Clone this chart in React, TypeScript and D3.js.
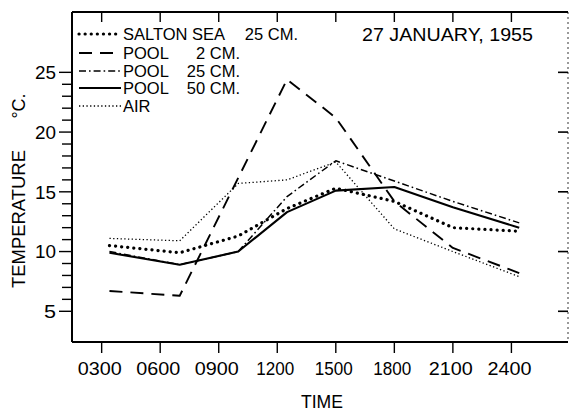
import React from "react";
import * as d3 from "d3";

// hours of the day; the last reading is just past midnight
const times = [3.4, 7, 10, 12.5, 15, 18, 21, 24.4];
const saltonSea25 = [10.5, 9.9, 11.3, 13.6, 15.3, 14.2, 12.0, 11.7];
const pool2 = [6.7, 6.3, null, 24.4, 21.2, 14.2, 10.3, 8.2];
const pool25 = [10.0, 8.9, 10.0, 14.6, 17.6, 15.9, 14.2, 12.4];
const pool50 = [9.9, 8.9, 10.0, 13.3, 15.1, 15.4, 13.7, 12.0];
const air = [11.1, 10.9, 15.7, 16.0, 17.5, 11.9, 10.0, 7.9];

const timeTicks = [3, 6, 9, 12, 15, 18, 21, 24];
const timeLabels = ["0300", "0600", "0900", "1200", "1500", "1800", "2100", "2400"];
const tempTicks = [5, 10, 15, 20, 25];

const FONT = "'Liberation Sans', Arial, sans-serif";

type Series = {
  name: string;
  depth: string;
  values: (number | null)[];
  width: number;
  dash: string;
  cap: "round" | "butt";
};

const series: Series[] = [
  { name: "SALTON SEA", depth: "25 CM.", values: saltonSea25, width: 3.2, dash: "0.1 6", cap: "round" },
  { name: "POOL", depth: "2 CM.", values: pool2, width: 1.9, dash: "13 8", cap: "butt" },
  { name: "POOL", depth: "25 CM.", values: pool25, width: 1.5, dash: "7 3 1.6 3", cap: "butt" },
  { name: "POOL", depth: "50 CM.", values: pool50, width: 2.1, dash: "none", cap: "butt" },
  { name: "AIR", depth: "", values: air, width: 1.3, dash: "1.3 2.4", cap: "butt" },
];

export default function App() {
  const width = 569;
  const height = 411;
  const left = 72;
  const right = 568;
  const top = 12;
  const bottom = 342;

  const x = d3.scaleLinear().domain([1.48, 26.9]).range([left, right]);
  const y = d3.scaleLinear().domain([2.43, 30.05]).range([bottom, top]);

  const line = d3
    .line<[number, number]>()
    .x((d) => x(d[0]))
    .y((d) => y(d[1]));

  const minorTicks = d3.range(5, 26);
  const legendY = [34, 53, 71, 88, 106];

  return (
    <svg
      width={width}
      height={height}
      style={{ position: "absolute", left: 0, top: 0, background: "#fff" }}
      fontFamily={FONT}
    >
      {/* frame */}
      <line x1={left} x2={left} y1={top} y2={bottom} stroke="#000" strokeWidth={2} />
      <line x1={left} x2={right} y1={bottom} y2={bottom} stroke="#000" strokeWidth={2} />
      <line x1={left} x2={right} y1={top} y2={top} stroke="#000" strokeWidth={2} />
      <line x1={right} x2={right} y1={top} y2={bottom} stroke="#000" strokeWidth={0.8} strokeDasharray="2 3" />

      {/* left ticks, every degree */}
      {minorTicks.map((t) => (
        <line
          key={"m" + t}
          x1={t % 5 === 0 ? left - 13 : left - 10}
          x2={left}
          y1={y(t)}
          y2={y(t)}
          stroke="#000"
          strokeWidth={1.4}
        />
      ))}
      {/* right ticks */}
      {tempTicks.map((t) => (
        <line key={"r" + t} x1={right - 10} x2={right} y1={y(t)} y2={y(t)} stroke="#000" strokeWidth={1.6} />
      ))}
      {tempTicks.map((t) => (
        <text
          key={"yl" + t}
          x={56}
          y={y(t)}
          dy="0.36em"
          textAnchor="end"
          fontSize={19}
          textLength={t < 10 ? 12 : 21}
          lengthAdjust="spacingAndGlyphs"
        >
          {t}
        </text>
      ))}

      {/* time ticks */}
      {timeTicks.map((t, i) => (
        <g key={"t" + t}>
          <line x1={x(t)} x2={x(t)} y1={bottom} y2={bottom + 11} stroke="#000" strokeWidth={1.4} />
          <line x1={x(t)} x2={x(t)} y1={top} y2={top + 10} stroke="#000" strokeWidth={1.4} />
          <text
            x={x(t) - 2}
            y={375}
            textAnchor="middle"
            fontSize={19}
            textLength={i >= 3 && i <= 5 ? 38 : 44}
            lengthAdjust="spacingAndGlyphs"
          >
            {timeLabels[i]}
          </text>
        </g>
      ))}

      <text x={322} y={408} textAnchor="middle" fontSize={19} textLength={42} lengthAdjust="spacingAndGlyphs">
        TIME
      </text>
      <text
        transform="translate(25,219) rotate(-90)"
        textAnchor="middle"
        fontSize={19}
        textLength={138}
        lengthAdjust="spacingAndGlyphs"
      >
        TEMPERATURE
      </text>
      <text transform="translate(25,106) rotate(-90)" textAnchor="middle" fontSize={18}>
        °C.
      </text>

      <text x={362} y={41} fontSize={18} textLength={171} lengthAdjust="spacingAndGlyphs">
        27 JANUARY, 1955
      </text>

      {/* data lines */}
      {series.map((s, i) => {
        const pts = times
          .map((t, j) => [t, s.values[j]] as [number, number | null])
          .filter((d) => d[1] !== null) as [number, number][];
        return (
          <path
            key={"s" + i}
            d={line(pts) ?? ""}
            fill="none"
            stroke="#000"
            strokeWidth={s.width}
            strokeDasharray={s.dash}
            strokeLinecap={s.cap}
            strokeLinejoin="round"
          />
        );
      })}

      {/* legend */}
      {series.map((s, i) => (
        <g key={"l" + i}>
          <line
            x1={79}
            x2={121}
            y1={legendY[i]}
            y2={legendY[i]}
            stroke="#000"
            strokeWidth={s.width}
            strokeDasharray={s.dash}
            strokeLinecap={s.cap}
          />
          <text x={123} y={legendY[i] + 6} fontSize={16.5}>
            {s.name}
          </text>
          {s.depth && (
            <text x={i === 0 ? 298 : 240} y={legendY[i] + 6} textAnchor="end" fontSize={16.5}>
              {s.depth}
            </text>
          )}
        </g>
      ))}
    </svg>
  );
}
